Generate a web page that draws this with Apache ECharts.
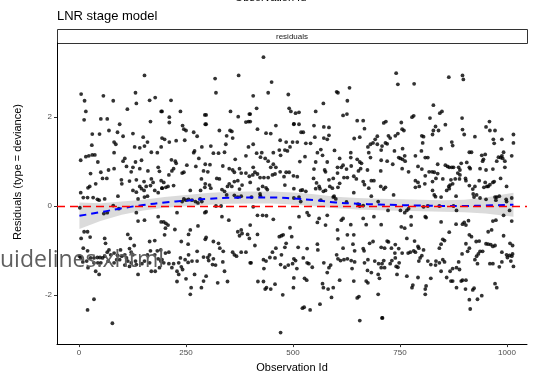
<!DOCTYPE html>
<html>
<head>
<meta charset="utf-8">
<script src="https://cdn.jsdelivr.net/npm/echarts@6/dist/echarts.min.js"></script>
<style>
  html, body { margin: 0; padding: 0; background: #ffffff; }
  #chart { width: 541px; height: 378px; }
</style>
</head>
<body>
<div id="chart"></div>
<script>
// Deviance residuals per observation: [observation id, residual]
var residualPoints = [
  [5,2.52],[57,2.48],[13,2.37],[80,2.37],[16,2.13],[12,1.94],[51,1.96],[66,1.96],[31,1.62],[48,1.62],[70,1.70],[90,1.66],[82,1.44],[86,1.39],[30,1.37],[82,1.20],[4,1.03],[16,1.11],[23,1.13],[31,1.15],[37,1.15],[44,0.99],[27,0.73],[51,0.76],[69,0.81],[82,0.84],[55,0.62],[65,0.62],[39,0.50],[25,0.44],[21,0.41],[4,0.30],[10,0.19],[20,0.19],[33,0.19],[43,0.15],[47,0.13],[60,0.16],[2,-0.04],[80,0.01],[66,-0.15],[58,-0.17],[12,-0.58],[20,-0.58],[26,-0.70],[5,-0.73],[60,-0.73],[62,-0.84],[10,-0.95],[20,-1.01],[1,-1.13],[4,-1.16],[70,-0.99],[66,-1.04],[74,-1.10],[82,-1.06],[90,-1.11],[27,-1.17],[35,-1.17],[43,-1.16],[49,-1.16],[55,-1.17],[60,-1.13],[18,-1.24],[35,-1.28],[44,-1.28],[51,-1.28],[68,-1.24],[82,-1.28],[9,-1.26],[21,-1.39],[88,-1.21],[39,-1.47],[47,-1.54],[35,-2.10],[20,-2.34],[78,-2.64],
  [153,2.94],[132,2.55],[165,2.38],[178,2.44],[134,2.31],[113,2.18],[192,2.13],[167,1.90],[95,1.84],[126,1.63],[103,1.57],[150,1.55],[130,1.33],[142,1.31],[153,1.35],[160,1.44],[192,1.33],[169,1.21],[183,1.20],[107,1.07],[103,1.01],[132,0.99],[146,1.03],[111,0.89],[126,0.87],[122,0.77],[142,0.84],[161,0.79],[185,0.87],[188,0.78],[99,0.59],[118,0.56],[134,0.59],[152,0.55],[169,0.61],[173,0.53],[192,0.57],[100,0.50],[142,0.44],[146,0.39],[157,0.44],[167,0.46],[194,0.40],[126,0.35],[134,0.31],[152,0.35],[177,0.35],[185,0.30],[138,0.16],[153,0.20],[160,0.22],[91,0.22],[93,-0.06],[185,-0.24],[134,-0.15],[138,-0.34],[153,-0.32],[192,-0.36],[114,-0.64],[120,-0.73],[129,-0.89],[165,-0.80],[177,-0.78],[97,-0.99],[118,-0.96],[167,-1.01],[183,-1.01],[191,-0.99],[95,-1.21],[100,-1.13],[107,-1.10],[111,-1.17],[122,-1.04],[126,-1.10],[114,-1.24],[122,-1.28],[132,-1.24],[153,-1.24],[165,-1.28],[160,-1.10],[177,-1.10],[185,-1.19],[191,-1.24],[107,-1.33],[118,-1.36],[134,-1.32],[147,-1.30],[169,-1.47],[178,-1.47],[188,-1.39],[138,-1.54],
  [215,2.38],[194,2.13],[237,2.13],[211,2.00],[294,2.05],[295,1.84],[211,1.88],[242,1.81],[245,1.73],[250,1.70],[268,1.66],[276,1.57],[194,1.53],[200,1.50],[211,1.44],[227,1.47],[247,1.48],[287,1.33],[268,1.20],[270,1.24],[280,1.07],[216,1.04],[225,1.01],[227,0.96],[217,0.79],[221,0.84],[241,0.74],[245,0.76],[252,0.92],[273,0.89],[295,0.94],[291,0.79],[210,0.70],[286,0.61],[198,0.53],[203,0.42],[208,0.44],[221,0.46],[194,0.40],[295,0.50],[294,0.42],[284,0.35],[260,0.35],[245,0.16],[241,0.10],[250,0.13],[256,0.15],[264,0.13],[272,0.10],[278,0.07],[283,0.16],[287,0.10],[294,-0.15],[229,-0.15],[198,-0.36],[203,-0.39],[208,-0.43],[202,-0.50],[200,-0.65],[224,-0.53],[260,-0.54],[256,-0.64],[278,-0.45],[239,-0.80],[255,-0.86],[295,-0.75],[202,-1.06],[210,-1.04],[256,-1.10],[276,-1.02],[237,-1.17],[248,-1.21],[255,-1.27],[264,-1.24],[276,-1.24],[291,-1.15],[194,-1.21],[198,-1.28],[210,-1.30],[221,-1.30],[233,-1.28],[217,-1.39],[229,-1.47],[233,-1.54],[239,-1.37],[242,-1.43],[250,-1.64],[270,-1.54],[291,-1.69],[229,-1.70],[262,-1.84],[286,-1.84],[260,-1.99],
  [318,2.87],[373,2.94],[320,2.55],[354,2.13],[372,2.01],[398,2.07],[390,1.89],[396,1.90],[297,2.05],[297,1.84],[328,1.70],[345,1.58],[353,1.70],[357,1.68],[359,1.53],[343,1.39],[340,1.21],[308,1.35],[314,1.19],[326,1.19],[396,1.33],[390,1.13],[365,1.05],[306,0.93],[301,0.77],[336,0.90],[351,0.84],[359,0.81],[363,0.76],[375,0.84],[379,0.74],[390,0.74],[322,0.62],[328,0.61],[305,0.47],[308,0.40],[334,0.37],[340,0.33],[347,0.44],[351,0.50],[357,0.44],[363,0.55],[371,0.57],[381,0.47],[375,0.38],[398,0.67],[400,0.53],[345,0.25],[363,0.24],[371,0.20],[379,0.22],[320,0.00],[332,0.00],[334,-0.24],[350,-0.32],[297,-0.13],[297,-0.71],[314,-0.80],[326,-0.84],[329,-0.95],[337,-1.02],[305,-1.10],[301,-1.16],[303,-1.23],[312,-1.32],[319,-1.33],[336,-1.26],[359,-1.04],[363,-1.10],[368,-1.13],[379,-1.04],[390,-1.04],[394,-0.64],[381,-0.62],[371,-0.58],[375,-0.67],[379,-0.54],[398,-0.73],[402,-1.28],[297,-1.58],[324,-1.73],[347,-1.70],[340,-1.47],[314,-1.19],
  [431,3.35],[450,2.79],[442,2.55],[489,2.51],[407,2.48],[491,2.20],[415,2.20],[495,2.13],[400,2.07],[400,1.90],[460,1.81],[502,1.85],[417,1.73],[437,1.64],[448,1.63],[470,1.48],[484,1.44],[499,1.44],[493,1.33],[487,1.24],[407,1.39],[415,1.19],[427,1.20],[424,1.10],[435,1.07],[442,1.01],[454,1.20],[468,1.26],[471,1.14],[481,1.26],[448,0.87],[460,0.87],[407,0.87],[411,0.76],[406,0.70],[417,0.72],[423,0.64],[432,0.64],[442,0.64],[458,0.72],[452,0.70],[470,0.77],[484,0.76],[491,0.76],[479,0.66],[501,0.68],[454,0.94],[481,0.47],[429,0.44],[437,0.41],[419,0.38],[423,0.27],[440,0.37],[424,0.22],[403,0.20],[407,-0.02],[429,-0.21],[438,-0.22],[417,-0.21],[454,-0.30],[400,-0.43],[417,-0.64],[411,-0.89],[400,-1.28],[431,-1.21],[437,-1.24],[432,-1.41],[452,-1.04],[460,-0.95],[446,-1.16],[458,-1.17],[468,-0.69],[473,-0.67],[477,-0.65],[484,-0.84],[481,-0.93],[473,-1.10],[471,-1.32],[481,-1.38],[489,-1.33],[499,-1.30],[493,-0.49],[497,-0.69],[418,-1.70],[431,-1.70],[438,-1.84],[435,-1.87],[448,-1.87],[458,-1.76],[476,-2.00],[501,-1.84],[471,-2.85],
  [602,2.57],[571,2.31],[553,2.13],[506,2.09],[514,2.11],[502,1.84],[514,1.84],[519,1.66],[524,1.66],[549,1.81],[572,1.78],[584,1.77],[551,1.55],[510,1.44],[530,1.41],[541,1.41],[572,1.53],[580,1.50],[584,1.59],[565,1.27],[557,1.20],[597,1.25],[528,1.11],[516,1.00],[553,0.99],[580,0.99],[569,1.14],[549,0.83],[574,0.81],[576,0.77],[604,0.87],[510,0.66],[548,0.62],[555,0.52],[561,0.44],[553,0.39],[563,0.39],[584,0.59],[586,0.44],[592,0.40],[594,0.62],[604,0.74],[518,0.35],[522,0.36],[530,0.33],[502,0.39],[571,0.33],[576,0.35],[596,0.22],[600,0.16],[565,0.13],[502,0.18],[514,0.20],[518,0.10],[594,0.20],[533,-0.15],[537,-0.21],[514,-0.24],[561,-0.28],[557,-0.37],[580,-0.21],[576,-0.43],[604,-0.54],[512,-0.93],[533,-0.96],[557,-0.86],[558,-0.99],[502,-1.19],[506,-1.23],[509,-1.41],[524,-1.17],[533,-1.28],[537,-1.30],[545,-1.38],[572,-1.28],[588,-1.33],[602,-1.10],[580,-1.50],[584,-1.39],[502,-1.62],[527,-1.63],[532,-1.67],[569,-1.75],[571,-1.84],[582,-1.87],[594,-1.84],[590,-2.06],[522,-2.30],[526,-2.28],[540,-2.34],[563,-2.21],
  [632,2.66],[605,2.55],[627,2.37],[617,2.04],[626,2.07],[650,1.92],[664,1.92],[667,1.74],[643,1.52],[656,1.55],[697,1.57],[692,1.50],[687,1.42],[681,1.39],[675,1.33],[697,1.39],[706,1.26],[677,1.20],[681,1.09],[635,1.20],[635,1.09],[609,1.07],[613,0.87],[617,0.92],[650,1.05],[656,0.99],[660,0.96],[658,0.84],[625,0.83],[636,0.90],[653,0.79],[674,0.81],[706,1.03],[705,0.79],[619,0.64],[609,0.51],[605,0.42],[627,0.64],[642,0.67],[648,0.61],[664,0.55],[667,0.48],[677,0.40],[683,0.57],[689,0.57],[642,0.30],[683,0.22],[705,0.44],[699,0.10],[625,0.09],[652,0.04],[656,0.00],[664,0.01],[617,-0.28],[613,-0.32],[635,-0.42],[664,-0.28],[671,-0.42],[689,-0.24],[706,-0.42],[605,-0.74],[617,-0.95],[627,-0.65],[642,-0.65],[640,-0.86],[644,-1.01],[664,-0.96],[666,-1.01],[679,-0.84],[687,-0.80],[675,-1.21],[706,-0.93],[605,-1.19],[611,-1.23],[619,-1.21],[627,-1.19],[636,-1.23],[644,-1.26],[638,-1.41],[667,-1.28],[674,-1.45],[683,-1.50],[691,-1.24],[700,-1.30],[702,-1.63],[699,-1.54],[706,-1.39],[609,-1.67],[642,-1.69],[671,-1.69],[675,-1.73],[699,-1.99],[650,-2.07],[654,-2.04],[656,-2.58],[709,-2.52],
  [741,2.99],[745,2.74],[783,2.75],[778,2.00],[782,2.03],[717,1.90],[712,1.87],[753,1.88],[759,1.70],[755,1.73],[723,1.58],[727,1.53],[739,1.58],[745,1.63],[716,1.42],[720,1.40],[708,1.35],[801,1.58],[805,1.56],[803,1.42],[756,1.29],[737,1.24],[747,1.09],[751,1.07],[756,1.05],[761,1.13],[762,1.01],[786,1.13],[800,1.24],[809,1.09],[720,1.01],[733,0.94],[755,0.84],[770,0.77],[792,0.89],[801,0.83],[809,0.68],[786,0.57],[792,0.53],[786,0.42],[795,0.44],[808,0.50],[716,0.42],[712,0.38],[735,0.25],[722,-0.10],[751,-0.10],[761,-0.15],[766,-0.10],[770,-0.06],[776,-0.24],[805,-0.02],[809,-0.24],[753,-0.47],[761,-0.50],[776,-0.43],[766,-0.73],[784,-0.79],[792,-0.91],[720,-0.79],[723,-0.81],[714,-0.95],[730,-0.95],[739,-0.87],[738,-1.06],[747,-0.96],[755,-1.06],[769,-1.06],[774,-1.04],[782,-1.01],[786,-1.04],[794,-0.95],[805,-0.99],[801,-1.12],[797,-1.17],[794,-1.24],[739,-1.17],[731,-1.23],[727,-1.30],[708,-1.30],[712,-1.23],[714,-1.39],[741,-1.36],[745,-1.38],[743,-1.54],[748,-1.28],[766,-1.58],[780,-1.78],[778,-1.84],[792,-1.61],[809,-1.87],[809,-1.99],[708,-2.52],
  [864,2.90],[896,2.94],[898,2.85],[828,2.27],[848,2.13],[843,2.09],[820,1.98],[895,1.98],[833,1.79],[828,1.70],[840,1.70],[856,1.83],[896,1.72],[900,1.61],[826,1.61],[871,1.44],[873,1.36],[846,1.29],[912,1.21],[815,1.09],[818,0.77],[825,0.77],[830,0.76],[838,0.73],[838,0.94],[834,0.62],[826,0.55],[850,0.61],[856,0.92],[861,0.89],[865,0.87],[871,0.87],[875,0.87],[887,0.87],[893,0.96],[906,0.98],[890,0.81],[885,0.74],[890,0.70],[879,0.61],[869,0.59],[867,0.47],[864,0.44],[859,0.35],[865,0.39],[873,0.50],[889,0.61],[903,0.62],[904,0.57],[912,0.87],[912,0.46],[826,0.35],[830,0.25],[833,0.21],[846,0.20],[881,0.22],[842,0.00],[815,0.00],[875,0.00],[882,-0.10],[811,-0.26],[846,-0.36],[881,-0.41],[896,-0.41],[900,-0.37],[910,-0.33],[904,-0.43],[865,-0.59],[850,-0.75],[854,-0.78],[846,-0.86],[842,-0.95],[912,-0.65],[904,-0.85],[895,-1.08],[912,-0.95],[908,-1.02],[815,-1.24],[822,-1.32],[834,-1.24],[842,-1.28],[850,-1.21],[854,-1.26],[846,-1.47],[833,-1.33],[859,-1.61],[867,-1.47],[873,-1.41],[882,-1.39],[889,-1.43],[887,-1.26],[869,-1.69],[873,-1.69],[882,-1.84],[903,-1.87],[904,-1.67],[893,-1.69],[896,-1.67],[912,-2.11],[822,-1.63],[811,-1.80],
  [959,1.90],[951,1.78],[960,1.70],[972,1.70],[925,1.56],[968,1.50],[970,1.41],[988,1.50],[1015,1.61],[1015,1.42],[917,1.21],[941,1.14],[949,1.16],[943,1.01],[945,1.05],[992,1.21],[980,1.10],[985,1.09],[988,1.13],[990,1.07],[995,1.01],[976,1.01],[1011,1.13],[937,0.84],[951,0.81],[967,0.83],[995,0.87],[914,0.84],[935,0.57],[949,0.53],[946,0.42],[953,0.44],[956,0.44],[960,0.48],[967,0.53],[970,0.55],[985,0.62],[925,0.44],[920,0.38],[999,0.44],[921,0.27],[929,0.25],[923,0.20],[937,0.18],[951,0.15],[972,0.20],[976,0.20],[982,0.22],[974,0.13],[998,0.15],[999,0.10],[1011,0.18],[1006,-0.10],[992,-0.21],[1011,-0.34],[974,-0.32],[967,-0.34],[964,-0.54],[956,-0.58],[992,-0.67],[917,-0.69],[928,-0.80],[935,-0.79],[951,-0.85],[956,-0.86],[962,-0.87],[967,-0.91],[972,-0.89],[1007,-0.84],[1013,-0.89],[937,-1.02],[943,-1.02],[933,-1.08],[929,-1.13],[925,-1.21],[931,-1.30],[988,-1.04],[999,-1.10],[1001,-1.16],[1006,-1.11],[1011,-1.13],[1013,-1.08],[960,-1.30],[967,-1.30],[988,-1.26],[982,-1.37],[1009,-1.24],[1015,-1.36],[972,-1.75],[976,-1.84],[920,-1.89],[923,-1.85],[941,-2.02],[931,-2.10],[914,-2.32]
];

// Loess trend of the residuals with its confidence band
var smoothX     = [1, 50, 100, 150, 200, 250, 300, 350, 400, 450, 500, 550, 600, 650, 700, 750, 800, 850, 900, 950, 1015];
var smoothFit   = [-0.22, -0.14, -0.05, 0.02, 0.08, 0.12, 0.16, 0.185, 0.19, 0.19, 0.17, 0.13, 0.08, 0.05, 0.035, 0.02, 0.01, 0.0, 0.0, 0.01, 0.03];
var smoothLower = [-0.52, -0.34, -0.20, -0.10, -0.04, -0.005, 0.03, 0.05, 0.055, 0.055, 0.035, -0.005, -0.05, -0.08, -0.095, -0.11, -0.12, -0.13, -0.14, -0.17, -0.24];
var smoothUpper = [0.08, 0.06, 0.10, 0.14, 0.20, 0.245, 0.29, 0.32, 0.325, 0.325, 0.305, 0.265, 0.21, 0.18, 0.165, 0.15, 0.14, 0.13, 0.14, 0.19, 0.30];

// Axis ticks
var xTicks = [0, 250, 500, 750, 1000];
var yTicks = [-2, 0, 2];

var FONT = '"Liberation Sans", Arial, sans-serif';

var chart = echarts.init(document.getElementById('chart'), null, { renderer: 'canvas' });

chart.setOption({
  animation: false,
  backgroundColor: '#ffffff',
  grid: { left: 57, right: 14, top: 43, bottom: 30 },
  xAxis: {
    type: 'value',
    min: -51.4,
    max: 1046.7,
    name: 'Observation Id',
    nameLocation: 'middle',
    nameGap: 14,
    nameTextStyle: { color: '#000000', fontSize: 11, fontFamily: FONT, verticalAlign: 'top' },
    axisLine: { show: true, onZero: false, lineStyle: { color: '#000000', width: 1 } },
    axisTick: { show: true, length: 3, customValues: xTicks, lineStyle: { color: '#333333' } },
    axisLabel: {
      customValues: xTicks,
      formatter: function (v) { return String(v); },
      color: '#4d4d4d', fontSize: 8, fontFamily: FONT, margin: 5
    },
    splitLine: { show: false }
  },
  yAxis: {
    type: 'value',
    min: -3.11,
    max: 3.67,
    axisLine: { show: true, onZero: false, lineStyle: { color: '#000000', width: 1 } },
    axisTick: { show: true, length: 3, customValues: yTicks, lineStyle: { color: '#333333' } },
    axisLabel: {
      customValues: yTicks,
      formatter: function (v) { return String(v); },
      color: '#4d4d4d', fontSize: 8, fontFamily: FONT, margin: 5
    },
    splitLine: { show: false }
  },
  graphic: [
    { type: 'text', left: 'center', top: -8, style: { text: 'Observation Id', fill: '#000000', font: '11px ' + FONT } },
    { type: 'text', left: 57, top: 10, style: { text: 'LNR stage model', fill: '#000000', font: '13px ' + FONT } },
    { type: 'rect', shape: { x: 57.5, y: 29.5, width: 470, height: 14 }, style: { fill: '#ffffff', stroke: '#333333', lineWidth: 1 } },
    { type: 'text', x: 292, y: 36.5, style: { text: 'residuals', fill: '#1a1a1a', font: '8px ' + FONT, align: 'center', verticalAlign: 'middle' } },
    { type: 'text', x: 18, y: 172, rotation: Math.PI / 2, style: { text: 'Residuals (type = deviance)', fill: '#000000', font: '11px ' + FONT, align: 'center', verticalAlign: 'middle' } },
    { type: 'text', left: 0, top: 249, z: 100, style: { text: 'uidelines.xhtml', fill: '#5f5f5f', font: '23px "Open Sans", sans-serif' } }
  ],
  series: [
    {
      type: 'custom',
      coordinateSystem: 'cartesian2d',
      data: [[smoothX[0], smoothFit[0]]],
      encode: { x: 0, y: 1 },
      silent: true,
      z: 1,
      renderItem: function (params, api) {
        var pts = [];
        for (var i = 0; i < smoothX.length; i++) pts.push(api.coord([smoothX[i], smoothUpper[i]]));
        for (var j = smoothX.length - 1; j >= 0; j--) pts.push(api.coord([smoothX[j], smoothLower[j]]));
        return { type: 'polygon', shape: { points: pts }, style: { fill: 'rgba(153,153,153,0.35)' } };
      }
    },
    {
      type: 'scatter',
      data: residualPoints,
      symbolSize: 3.8,
      itemStyle: { color: '#000000' },
      silent: true,
      z: 2,
      markLine: {
        silent: true,
        symbol: 'none',
        label: { show: false },
        lineStyle: { color: '#ff0000', width: 1.4, type: [8, 5] },
        data: [{ yAxis: 0 }]
      }
    },
    {
      type: 'line',
      data: smoothX.map(function (x, i) { return [x, smoothFit[i]]; }),
      smooth: true,
      showSymbol: false,
      symbol: 'none',
      silent: true,
      z: 3,
      lineStyle: { color: '#0000ff', width: 2, type: [7, 5] }
    }
  ]
});
</script>
</body>
</html>
